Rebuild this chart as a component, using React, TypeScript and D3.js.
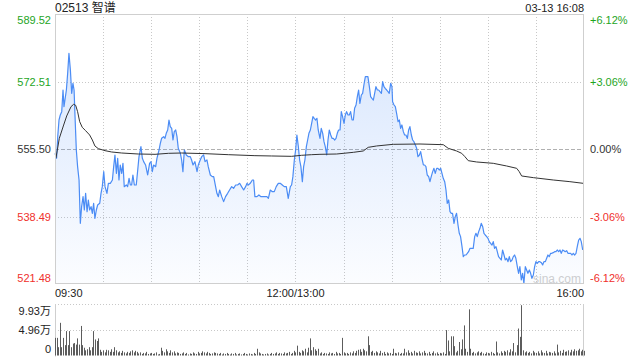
import React from 'react';
import * as d3 from 'd3';

const W = 640;
const H = 360;

const titleText = '02513 智谱';
const dateText = '03-13 16:08';
const priceTicks = [589.52, 572.51, 555.5, 538.49, 521.48];
const priceTickLabels = ['589.52', '572.51', '555.50', '538.49', '521.48'];
const pctTickLabels = ['+6.12%', '+3.06%', '0.00%', '-3.06%', '-6.12%'];
const tickKinds = ['up', 'up', 'flat', 'down', 'down'];
const timeLabels = ['09:30', '12:00/13:00', '16:00'];
const timeLabelMinutes = [0, 150, 330];
const volTicks = [9.93, 4.96, 0];
const volTickLabels = ['9.93万', '4.96万', '0'];

const priceMinutes = [
  0.0, 1.0, 1.7, 2.5, 3.3, 4.2, 5.0, 5.6, 6.2, 7.1, 7.9, 8.7, 9.6, 10.4, 11.2, 11.9, 12.5, 13.3, 14.1, 15.0,
  15.8, 16.6, 17.5, 18.3, 19.1, 20.0, 20.8, 21.6, 22.5, 23.3, 24.1, 24.9, 25.8, 26.6, 27.9, 28.7, 29.5, 30.4, 31.2, 32.4,
  33.3, 34.5, 35.8, 36.6, 37.4, 38.3, 39.1, 39.9, 40.7, 41.6, 42.4, 43.2, 44.5, 45.3, 46.2, 47.0, 47.8, 48.6, 49.5, 50.7,
  51.6, 52.4, 53.6, 54.5, 55.3, 56.5, 57.8, 59.0, 59.9, 60.7, 61.5, 62.8, 63.6, 64.9, 65.7, 66.5, 67.8, 68.6, 69.4, 70.3,
  71.1, 71.9, 72.8, 73.6, 74.4, 75.3, 76.1, 76.9, 78.2, 79.0, 79.8, 80.7, 81.9, 83.2, 84.4, 85.2, 86.1, 87.3, 88.6, 89.4,
  90.6, 91.5, 92.7, 93.6, 94.8, 95.6, 96.9, 98.1, 99.0, 99.8, 101.0, 101.9, 102.7, 104.0, 105.2, 106.4, 107.7, 108.9, 110.2, 111.4,
  112.7, 113.9, 115.2, 116.4, 117.7, 118.9, 119.8, 120.6, 121.8, 123.1, 123.9, 124.7, 126.0, 127.2, 128.5, 129.7, 131.0, 132.2, 133.1, 134.3,
  135.6, 136.8, 138.0, 139.3, 140.5, 141.8, 143.0, 144.3, 145.5, 146.8, 147.6, 148.4, 149.3, 150.1, 150.9, 151.8, 152.6, 153.4, 154.3, 155.1,
  155.9, 156.8, 157.6, 158.4, 159.3, 160.1, 160.9, 161.7, 162.6, 163.4, 164.2, 165.3, 166.1, 167.0, 167.8, 168.6, 169.5, 170.3, 171.1, 172.0,
  172.8, 173.6, 174.5, 175.3, 176.1, 176.9, 177.8, 178.6, 179.4, 180.3, 181.1, 181.9, 182.8, 183.6, 184.4, 185.3, 186.1, 186.9, 187.8, 188.6,
  189.4, 190.2, 191.1, 191.9, 192.7, 193.6, 194.4, 195.2, 196.1, 196.9, 197.7, 198.6, 199.4, 200.2, 201.1, 201.9, 202.7, 203.6, 204.4, 205.2,
  206.0, 206.9, 207.7, 208.5, 209.4, 210.2, 210.6, 211.5, 212.3, 213.1, 214.0, 214.8, 215.6, 216.4, 217.3, 218.1, 218.9, 219.8, 220.6, 221.4,
  222.3, 223.1, 223.9, 224.8, 225.6, 226.4, 227.3, 228.1, 228.9, 229.8, 230.6, 231.4, 232.2, 233.1, 233.9, 234.7, 235.6, 236.4, 237.2, 238.1,
  238.9, 239.7, 240.6, 241.4, 242.2, 243.1, 243.9, 244.7, 245.6, 246.4, 247.2, 248.0, 248.9, 249.7, 250.5, 251.4, 252.2, 253.0, 253.9, 254.7,
  255.5, 256.4, 257.2, 258.0, 258.9, 260.1, 260.9, 261.8, 262.6, 263.4, 264.3, 265.1, 265.9, 266.8, 267.6, 268.4, 269.3, 270.1, 270.9, 271.7,
  272.6, 273.4, 274.2, 275.1, 275.9, 276.7, 277.6, 278.4, 279.2, 280.1, 280.9, 281.7, 282.6, 283.4, 284.2, 285.1, 285.9, 286.7, 287.5, 288.4,
  289.2, 290.0, 290.9, 291.7, 292.5, 293.4, 294.2, 295.0, 295.9, 296.7, 297.5, 298.4, 299.2, 300.0, 300.9, 301.7, 302.5, 303.4, 304.2, 305.0,
  305.9, 306.7, 307.5, 308.3, 309.2, 310.0, 310.8, 311.7, 312.5, 313.3, 314.2, 315.0, 315.8, 316.7, 317.5, 318.3, 319.2, 320.0, 320.8, 321.7,
  322.5, 323.3, 324.2, 325.0, 325.8, 326.7, 327.5, 328.3, 329.2,
];

const priceValues = [
  554.41, 553.15, 558.61, 562.81, 564.07, 564.91, 570.37, 566.17, 567.85, 570.37, 574.57, 579.61, 575.41, 569.53, 572.05, 570.37, 563.65, 555.25, 551.05, 547.69,
  536.77, 540.97, 543.49, 540.13, 544.33, 539.71, 542.65, 540.13, 540.97, 539.29, 541.81, 538.03, 540.13, 541.39, 541.81, 544.33, 546.01, 549.79, 546.01, 544.33,
  546.85, 546.85, 547.69, 551.05, 553.99, 549.37, 553.15, 547.69, 551.47, 549.37, 551.89, 546.01, 546.43, 546.01, 548.11, 546.43, 546.43, 548.95, 546.43, 546.43,
  550.21, 553.57, 556.09, 553.15, 552.31, 551.47, 548.95, 551.89, 552.31, 549.79, 551.47, 551.05, 553.15, 555.25, 556.93, 558.19, 558.61, 558.19, 559.45, 560.29,
  562.81, 561.13, 560.71, 557.77, 559.87, 560.29, 558.61, 555.67, 554.41, 552.73, 549.79, 555.25, 553.99, 553.57, 553.57, 552.73, 551.47, 552.31, 549.79, 551.47,
  552.73, 553.57, 553.99, 552.31, 552.73, 551.05, 548.95, 548.53, 548.53, 546.85, 544.33, 543.49, 545.17, 543.49, 542.23, 543.49, 544.33, 545.17, 546.01, 545.59,
  546.43, 546.43, 546.85, 546.01, 545.17, 546.01, 546.85, 546.43, 546.85, 547.69, 547.69, 543.49, 543.49, 543.91, 543.49, 543.49, 543.49, 543.49, 543.07, 545.17,
  544.75, 544.75, 546.01, 546.85, 546.85, 546.43, 546.01, 546.01, 543.07, 546.01, 546.43, 548.53, 552.73, 555.25, 559.03, 556.09, 552.73, 551.05, 547.27, 551.05,
  552.73, 556.09, 557.77, 559.45, 560.29, 561.97, 563.65, 563.23, 562.81, 563.23, 560.29, 558.19, 560.71, 559.45, 557.35, 556.09, 553.99, 557.77, 560.29, 559.03,
  558.19, 558.19, 557.77, 558.19, 559.45, 560.29, 560.29, 564.91, 563.65, 561.97, 564.07, 564.91, 564.07, 564.07, 564.91, 562.81, 562.81, 565.75, 566.59, 568.69,
  570.37, 567.01, 569.11, 569.53, 571.63, 573.73, 573.73, 573.73, 571.21, 568.69, 568.27, 567.85, 569.53, 571.21, 570.37, 570.37, 569.95, 569.53, 572.47, 571.21,
  570.79, 570.37, 569.95, 569.53, 572.05, 571.21, 567.43, 566.59, 566.17, 564.49, 562.39, 562.81, 560.71, 561.55, 559.87, 559.03, 559.03, 558.19, 560.29, 561.13,
  559.03, 557.77, 557.35, 556.51, 555.67, 553.57, 553.99, 554.83, 553.15, 551.47, 551.47, 551.05, 548.95, 548.53, 547.27, 548.53, 549.79, 550.63, 549.37, 550.63,
  550.63, 550.21, 550.63, 549.37, 548.11, 547.27, 545.17, 541.81, 542.65, 539.71, 539.29, 539.29, 536.77, 538.45, 539.29, 536.35, 534.25, 533.41, 530.89, 528.37,
  528.79, 528.79, 529.21, 529.63, 530.47, 530.47, 530.47, 533.41, 534.25, 533.41, 534.67, 535.51, 536.77, 535.93, 534.25, 533.83, 533.41, 532.99, 532.15, 531.73,
  531.31, 532.15, 530.47, 530.89, 529.63, 528.37, 527.95, 527.53, 530.05, 528.79, 527.53, 527.95, 527.11, 528.37, 527.11, 527.53, 528.37, 528.79, 527.95, 525.85,
  524.17, 525.85, 522.49, 524.17, 521.65, 525.85, 525.01, 524.17, 525.01, 524.17, 522.91, 523.75, 525.85, 527.11, 526.69, 527.11, 527.11, 526.86, 526.27, 527.11,
  527.11, 527.95, 528.79, 528.37, 529.21, 529.21, 529.38, 529.63, 529.63, 530.05, 529.63, 530.05, 529.21, 530.05, 529.88, 529.63, 529.88, 529.21, 529.21, 529.21,
  528.79, 529.21, 528.79, 529.21, 530.89, 532.57, 532.99, 532.15, 530.05,
];

const avgMinutes = [
  0.6, 2.7, 5.2, 7.3, 10.0, 11.6, 12.9, 14.1, 15.4, 17.0, 19.1, 21.6, 23.3, 24.9, 27.0, 31.2, 35.3, 41.6, 52.0, 62.4,
  70.7, 79.0, 93.6, 108.1, 124.7, 135.1, 147.6, 153.8, 160.1, 165.3, 175.7, 186.1, 192.3, 195.4, 200.6, 211.0, 227.7, 242.2, 245.3, 250.5,
  253.7, 255.7, 257.8, 263.0, 273.4, 281.7, 288.0, 289.6, 291.1, 298.4, 310.8, 321.2, 329.5,
];
const avgValues = [
  553.23, 558.19, 561.3, 563.82, 566.17, 566.76, 566.51, 564.91, 562.39, 560.96, 560.12, 559.03, 557.77, 556.26, 555.59, 555.08, 554.75, 554.49, 554.24, 554.16,
  554.41, 554.49, 554.33, 554.07, 553.82, 553.74, 553.65, 553.91, 554.07, 554.16, 554.24, 554.66, 555.0, 555.92, 556.26, 556.68, 556.76, 556.59, 555.67, 555.0,
  554.41, 553.57, 552.56, 552.23, 551.89, 551.22, 550.63, 549.79, 548.7, 548.28, 547.69, 547.27, 546.85,
];

// volume per minute, in 万 shares
const volumes = [
  3.4, 3.4, 1.6, 6.3, 1.6, 3.4, 2.0, 4.7, 2.0, 4.7,
  1.6, 2.3, 2.4, 2.1, 3.3, 2.1, 5.7, 2.0, 1.5, 1.0,
  1.2, 1.6, 1.0, 1.6, 4.7, 3.1, 2.8, 3.3, 1.1, 0.7,
  1.0, 0.6, 1.1, 1.0, 0.7, 1.2, 0.7, 1.6, 1.0, 0.6,
  0.8, 0.5, 0.9, 0.6, 0.4, 0.7, 0.5, 0.8, 1.0, 0.6,
  0.9, 0.7, 0.4, 0.6, 0.3, 0.5, 0.4, 0.7, 0.3, 0.4,
  0.5, 0.3, 0.4, 0.6, 0.2, 0.3, 1.5, 0.9, 0.6, 1.2,
  0.8, 0.5, 1.0, 0.6, 0.8, 0.4, 0.6, 0.5, 0.3, 0.4,
  0.6, 0.3, 0.5, 0.2, 0.4, 0.3, 0.6, 0.4, 0.3, 0.7,
  0.4, 0.5, 0.8, 0.6, 0.4, 0.7, 0.5, 0.3, 0.4, 0.6,
  0.5, 0.4, 0.3, 0.5, 0.2, 0.4, 0.3, 0.5, 0.3, 0.2,
  0.4, 0.3, 0.5, 0.2, 0.3, 0.4, 0.2, 0.3, 0.5, 0.3,
  0.2, 0.4, 0.3, 0.2, 0.5, 0.3, 1.3, 0.6, 0.4, 0.3,
  0.2, 0.3, 0.4, 0.2, 0.3, 0.5, 0.3, 0.4, 0.6, 0.3,
  0.5, 0.4, 0.3, 0.6, 0.4, 0.5, 0.7, 0.3, 0.5, 0.9,
  0.6, 1.9, 0.7, 0.5, 1.0, 0.8, 1.3, 0.6, 1.5, 3.3,
  1.0, 1.6, 1.2, 0.9, 1.3, 0.4, 0.6, 0.3, 0.5, 0.4,
  0.3, 0.6, 0.4, 0.5, 0.3, 0.7, 0.4, 0.5, 0.3, 3.4,
  0.6, 0.4, 0.5, 0.3, 0.6, 0.4, 0.8, 0.5, 0.9, 1.1,
  1.2, 0.7, 1.3, 1.0, 0.8, 3.7, 2.0, 0.7, 0.9, 0.5,
  0.8, 0.6, 0.4, 0.9, 0.5, 0.7, 0.3, 0.6, 0.4, 0.5,
  0.3, 1.3, 0.5, 0.4, 0.6, 0.3, 0.5, 0.4, 1.3, 0.6,
  1.0, 0.5, 0.7, 0.4, 0.9, 0.6, 0.5, 0.8, 0.4, 0.6,
  0.9, 0.5, 0.4, 0.7, 0.3, 0.5, 0.8, 0.4, 0.6, 0.3,
  0.5, 0.4, 0.6, 0.3, 4.9, 2.9, 0.8, 3.7, 3.7, 1.8,
  0.6, 0.9, 2.6, 1.2, 3.1, 5.8, 1.3, 0.7, 8.9, 1.3,
  0.5, 0.7, 0.4, 0.6, 0.8, 0.5, 0.7, 0.4, 0.3, 0.6,
  0.5, 0.4, 0.7, 0.5, 0.3, 2.7, 0.6, 0.4, 0.8, 0.5,
  0.9, 0.7, 1.0, 0.6, 1.2, 0.8, 2.4, 0.6, 2.0, 5.2,
  3.6, 9.7, 1.0, 0.6, 0.8, 0.5, 0.7, 0.4, 0.9, 0.6,
  0.5, 0.8, 0.4, 1.0, 0.6, 0.5, 0.9, 0.4, 0.7, 0.6,
  0.5, 0.8, 0.4, 2.1, 0.6, 0.9, 0.5, 1.1, 0.7, 0.8,
  1.0, 0.6, 1.1, 0.8, 1.2, 0.9, 1.0, 1.3, 0.8, 1.1,
  0.9,
];

const FONT = "'Liberation Sans', Arial, 'Noto Sans CJK SC', sans-serif";
const UP = '#1ea51e';
const DOWN = '#f0302c';
const FLAT = '#333333';
const kindColor = (k: string) => (k === 'up' ? UP : k === 'down' ? DOWN : FLAT);

export default function App() {
  const left = 55;
  const right = 584;
  const top = 14;
  const bottom = 284;
  const vTop = 304;
  const vBottom = 355.5;

  const x = d3.scaleLinear().domain([0, 330]).range([left, right]);
  const y = d3.scaleLinear().domain([521.48, 589.52]).range([bottom, top]);
  const vy = d3.scaleLinear().domain([0, 9.93]).range([vBottom, vTop]);

  const pricePts: [number, number][] = priceMinutes.map((m, i) => [m, priceValues[i]]);
  const avgPts: [number, number][] = avgMinutes.map((m, i) => [m, avgValues[i]]);

  const line = d3.line<[number, number]>().x((d) => x(d[0])).y((d) => y(d[1]));
  const area = d3
    .area<[number, number]>()
    .x((d) => x(d[0]))
    .y0(bottom)
    .y1((d) => y(d[1]));

  const vGrid = d3.range(1, 11).map((i) => i * 30);
  const clampY = (v: number, lo: number, hi: number, pad: number) => Math.min(Math.max(v, lo + pad), hi - pad);

  return (
    <svg
      width={W}
      height={H}
      style={{ position: 'absolute', left: 0, top: 0, background: '#fff' }}
      fontFamily={FONT}
    >
      <defs>
        <linearGradient id="areaGrad" gradientUnits="userSpaceOnUse" x1={0} y1={top} x2={0} y2={bottom}>
          <stop offset="0%" stopColor="#4c8df8" stopOpacity={0.24} />
          <stop offset="100%" stopColor="#4c8df8" stopOpacity={0.02} />
        </linearGradient>
      </defs>

      {/* title */}
      <text x={left} y={12} fontSize={12} fill="#222">{titleText}</text>
      <text x={right} y={12} fontSize={11} fill="#222" textAnchor="end">{dateText}</text>

      {/* vertical grid */}
      {vGrid.map((m) => (
        <line key={'vg' + m} x1={Math.round(x(m)) + 0.5} x2={Math.round(x(m)) + 0.5} y1={top} y2={bottom}
          stroke="#c8c8c8" strokeDasharray="1,2" />
      ))}
      {/* horizontal grid */}
      {priceTicks.map((p, i) => {
        if (i === 0 || i === priceTicks.length - 1) return null;
        const yy = Math.round(y(p)) + 0.5;
        const isZero = tickKinds[i] === 'flat';
        return (
          <line key={'hg' + i} x1={left} x2={right} y1={yy} y2={yy}
            stroke={isZero ? '#b0b0b0' : '#c8c8c8'} strokeDasharray={isZero ? '4,2' : '1,2'} />
        );
      })}

      {/* watermark */}
      <text x={533} y={283} fontSize={12} fill="#cfcfcf">sina.com</text>

      {/* area and line */}
      <path d={area(pricePts) || ''} fill="url(#areaGrad)" />
      <path d={line(pricePts) || ''} fill="none" stroke="#4b8cf5" strokeWidth={1.2} strokeLinejoin="round" />
      <path d={line(avgPts) || ''} fill="none" stroke="#333" strokeWidth={1} />

      {/* frame */}
      <rect x={left + 0.5} y={top + 0.5} width={right - left - 1} height={bottom - top - 1} fill="none" stroke="#cfcfcf" />

      {/* price labels */}
      {priceTicks.map((p, i) => (
        <text key={'pl' + i} x={51} y={clampY(y(p), top, bottom, 6)} fontSize={11} textAnchor="end"
          dominantBaseline="central" fill={kindColor(tickKinds[i])}>{priceTickLabels[i]}</text>
      ))}
      {priceTicks.map((p, i) => (
        <text key={'pr' + i} x={590} y={clampY(y(p), top, bottom, 6)} fontSize={11} textAnchor="start"
          dominantBaseline="central" fill={kindColor(tickKinds[i])}>{pctTickLabels[i]}</text>
      ))}

      {/* time labels */}
      {timeLabels.map((t, i) => (
        <text key={'tl' + i} x={x(timeLabelMinutes[i])} y={297} fontSize={11} fill="#222"
          textAnchor={i === 0 ? 'start' : i === timeLabels.length - 1 ? 'end' : 'middle'}>{t}</text>
      ))}

      {/* volume grid */}
      {volTicks.slice(0, 2).map((v, i) => (
        <line key={'vgl' + i} x1={left} x2={right} y1={Math.round(vy(v)) + 0.5} y2={Math.round(vy(v)) + 0.5}
          stroke="#c8c8c8" strokeDasharray="1,2" />
      ))}
      <line x1={left + 0.5} x2={left + 0.5} y1={vTop} y2={vBottom + 1} stroke="#cfcfcf" />
      <line x1={right - 0.5} x2={right - 0.5} y1={vTop} y2={vBottom + 1} stroke="#cfcfcf" />

      {/* volume bars */}
      {volumes.map((v, i) => {
        const xx = Math.round(x(i)) + 0.5;
        return <line key={'vb' + i} x1={xx} x2={xx} y1={vy(0)} y2={vy(v)} stroke="#5c5c5c" strokeWidth={1} />;
      })}

      {/* volume labels */}
      {volTicks.map((v, i) => (
        <text key={'vl' + i} x={51} y={clampY(vy(v), vTop, vBottom, 7)} fontSize={11} textAnchor="end"
          dominantBaseline="central" fill="#222">{volTickLabels[i]}</text>
      ))}
    </svg>
  );
}
